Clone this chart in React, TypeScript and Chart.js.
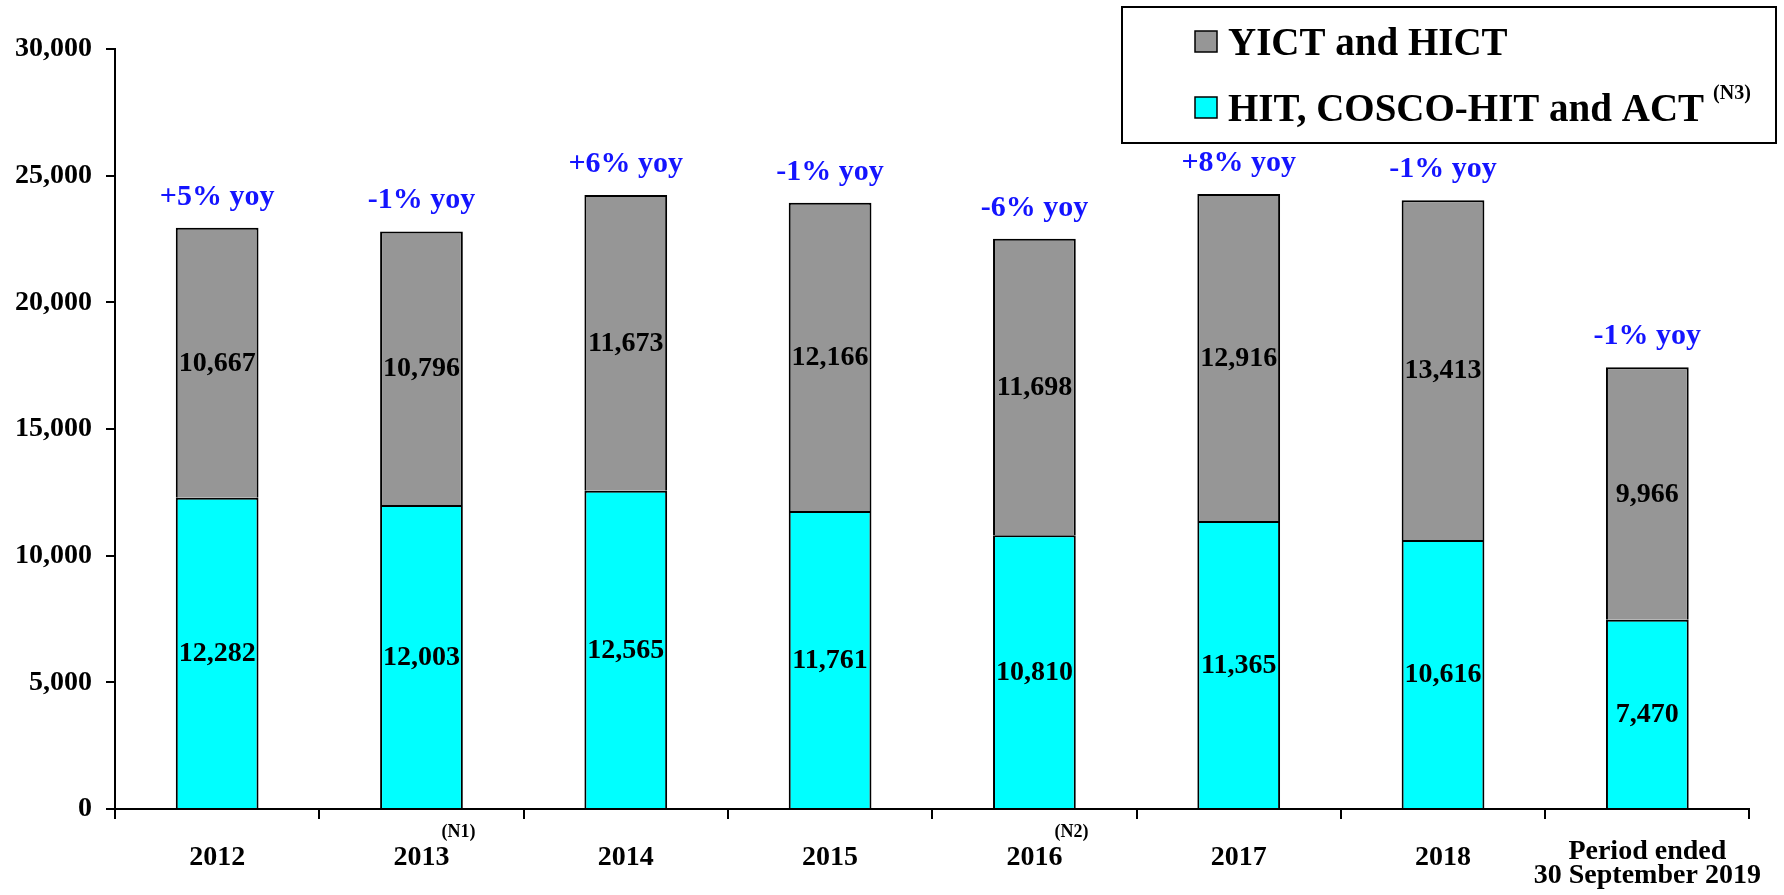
import React, { useEffect, useRef } from "react";
import { Chart, registerables } from "chart.js";

Chart.register(...registerables);

const categories: (string | string[])[] = [
  "2012",
  "2013",
  "2014",
  "2015",
  "2016",
  "2017",
  "2018",
  ["Period ended", "30 September 2019"],
];
const categoryNotes = ["", "(N1)", "", "", "(N2)", "", "", ""];

const hitLabel = "HIT, COSCO-HIT and ACT";
const hitNote = "(N3)";
const hitValues = [12282, 12003, 12565, 11761, 10810, 11365, 10616, 7470];

const yictLabel = "YICT and HICT";
const yictValues = [10667, 10796, 11673, 12166, 11698, 12916, 13413, 9966];

const yoyLabels = [
  "+5% yoy",
  "-1% yoy",
  "+6% yoy",
  "-1% yoy",
  "-6% yoy",
  "+8% yoy",
  "-1% yoy",
  "-1% yoy",
];

const yMin = 0;
const yMax = 30000;
const yStep = 5000;

const FONT = '"Liberation Serif", "Times New Roman", serif';
const CYAN = "#00FFFF";
const GRAY = "#969696";
const BLUE = "#1414FF";

const fmt = (v: number) => v.toLocaleString("en-US");

const labelsPlugin = {
  id: "customLabels",
  afterDatasetsDraw(chart: any) {
    const { ctx } = chart;
    ctx.save();
    ctx.font = `bold 28px ${FONT}`;
    ctx.fillStyle = "#000";
    ctx.textAlign = "center";
    ctx.textBaseline = "middle";
    chart.data.datasets.forEach((ds: any, di: number) => {
      const meta = chart.getDatasetMeta(di);
      meta.data.forEach((el: any, i: number) => {
        const v = ds.data[i] as number;
        ctx.fillText(fmt(v), el.x, (el.y + el.base) / 2 + 1);
      });
    });
    const topMeta = chart.getDatasetMeta(chart.data.datasets.length - 1);
    ctx.font = `bold 30px ${FONT}`;
    ctx.fillStyle = BLUE;
    ctx.textBaseline = "alphabetic";
    topMeta.data.forEach((el: any, i: number) => {
      ctx.fillText(yoyLabels[i], el.x, el.y - 23);
    });
    ctx.restore();
  },
  afterDraw(chart: any) {
    const { ctx } = chart;
    const xScale = chart.scales.x;
    ctx.save();
    // superscript notes on categories
    ctx.font = `bold 18px ${FONT}`;
    ctx.fillStyle = "#000";
    ctx.textAlign = "center";
    ctx.textBaseline = "middle";
    categoryNotes.forEach((n, i) => {
      if (!n) return;
      ctx.fillText(n, xScale.getPixelForValue(i) + 37, 832);
    });

    // legend box
    ctx.lineWidth = 2;
    ctx.strokeStyle = "#000";
    ctx.strokeRect(1122, 7, 654, 136);
    const items = [
      { ds: chart.data.datasets[1], swY: 31, base: 55, note: "" },
      { ds: chart.data.datasets[0], swY: 97, base: 121, note: hitNote },
    ];
    items.forEach((it) => {
      ctx.fillStyle = it.ds.backgroundColor;
      ctx.fillRect(1195, it.swY, 22, 21);
      ctx.lineWidth = 1.5;
      ctx.strokeStyle = "#000";
      ctx.strokeRect(1195, it.swY, 22, 21);
      ctx.fillStyle = "#000";
      ctx.font = `bold 39px ${FONT}`;
      ctx.textAlign = "left";
      ctx.textBaseline = "alphabetic";
      ctx.fillText(it.ds.label, 1228, it.base);
      if (it.note) {
        const w = ctx.measureText(it.ds.label).width;
        ctx.font = `bold 20px ${FONT}`;
        ctx.textBaseline = "middle";
        ctx.fillText(it.note, 1228 + w + 9, 94);
      }
    });
    ctx.restore();
  },
};

export default function App() {
  const canvasRef = useRef<HTMLCanvasElement | null>(null);

  useEffect(() => {
    const canvas = canvasRef.current;
    if (!canvas) return;
    const chart = new Chart(canvas, {
      type: "bar",
      data: {
        labels: categories,
        datasets: [
          {
            label: hitLabel,
            data: hitValues,
            backgroundColor: CYAN,
            borderColor: "#000",
            borderWidth: 2,
            borderSkipped: "start",
            barPercentage: 0.405,
            categoryPercentage: 1,
          },
          {
            label: yictLabel,
            data: yictValues,
            backgroundColor: GRAY,
            borderColor: "#000",
            borderWidth: 2,
            borderSkipped: "start",
            barPercentage: 0.405,
            categoryPercentage: 1,
          },
        ],
      },
      options: {
        responsive: false,
        animation: false,
        layout: { padding: { top: 49, right: 34, left: 0, bottom: 0 } },
        plugins: {
          legend: { display: false },
          title: { display: false },
          tooltip: { enabled: false },
        },
        scales: {
          x: {
            stacked: true,
            offset: true,
            grid: {
              offset: true,
              drawOnChartArea: false,
              drawTicks: true,
              tickLength: 10,
              color: "#000",
              lineWidth: 2,
            },
            border: { display: true, color: "#000", width: 2 },
            ticks: {
              color: "#000",
              padding: 21,
              maxRotation: 0,
              autoSkip: false,
              font: (c: any) => {
                const lbl = categories[c.index];
                const multi = Array.isArray(lbl);
                return {
                  family: FONT,
                  size: 28,
                  weight: "bold",
                  lineHeight: multi ? 0.86 : 1.28,
                };
              },
            },
            afterFit: (scale: any) => {
              scale.height = 86;
            },
          },
          y: {
            stacked: true,
            min: yMin,
            max: yMax,
            grid: {
              drawOnChartArea: false,
              drawTicks: true,
              tickLength: 9,
              color: "#000",
              lineWidth: 2,
            },
            border: { display: true, color: "#000", width: 2 },
            ticks: {
              stepSize: yStep,
              color: "#000",
              padding: 14,
              font: { family: FONT, size: 28, weight: "bold" },
              callback: (v: any) => fmt(Number(v)),
            },
            afterFit: (scale: any) => {
              scale.width = 115;
            },
          },
        },
      },
      plugins: [labelsPlugin],
    });
    return () => chart.destroy();
  }, []);

  return (
    <div
      style={{
        position: "fixed",
        left: 0,
        top: 0,
        width: 1784,
        height: 895,
        background: "#fff",
      }}
    >
      <canvas ref={canvasRef} width={1784} height={895} />
    </div>
  );
}
